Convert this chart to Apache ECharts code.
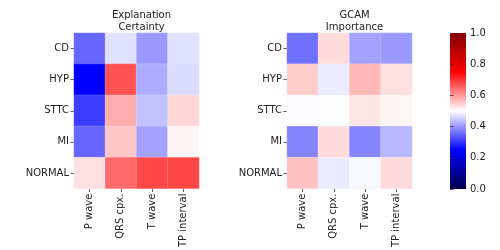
<!DOCTYPE html>
<html><head><meta charset="utf-8">
<script src="https://cdn.jsdelivr.net/npm/echarts@6/dist/echarts.min.js"></script>
<style>html,body{margin:0;padding:0;background:#fff}#c{width:500px;height:250px}</style>
</head><body><div id="c"></div>
<script>
const rows = ['CD', 'HYP', 'STTC', 'MI', 'NORMAL'];
const cols = ['P wave', 'QRS cpx.', 'T wave', 'TP interval'];
const certainty = [
  [0.35, 0.47, 0.40, 0.47],
  [0.25, 0.67, 0.42, 0.465],
  [0.31, 0.58, 0.44, 0.54],
  [0.35, 0.555, 0.41, 0.51],
  [0.53, 0.645, 0.68, 0.68]
];
const importance = [
  [0.36, 0.535, 0.41, 0.40],
  [0.55, 0.48, 0.57, 0.53],
  [0.497, 0.498, 0.525, 0.51],
  [0.38, 0.535, 0.38, 0.43],
  [0.56, 0.48, 0.492, 0.535]
];
const cbTicks = [0, 0.2, 0.4, 0.6, 0.8, 1.0];
const seismic = ['#00004c', '#0000ff', '#ffffff', '#ff0000', '#800000'];

function toData(m) {
  const d = [];
  m.forEach((r, i) => r.forEach((v, j) => d.push([j, i, v])));
  return d;
}
const font = 'DejaVu Sans';
const txt = '#222';
function xAx(gi) {
  return {
    type: 'category', data: cols, gridIndex: gi,
    axisLine: {show: false},
    axisTick: {show: true, alignWithLabel: true, length: 3.5, lineStyle: {color: '#333', width: 0.8}},
    axisLabel: {rotate: 90, fontSize: 10, fontFamily: font, color: txt, margin: 5},
    splitArea: {show: false}
  };
}
function yAx(gi) {
  return {
    type: 'category', data: rows, gridIndex: gi, inverse: true,
    axisLine: {show: false},
    axisTick: {show: true, alignWithLabel: true, length: 3.5, lineStyle: {color: '#333', width: 0.8}},
    axisLabel: {fontSize: 10, fontFamily: font, color: txt, margin: 5}
  };
}
const chart = echarts.init(document.getElementById('c'), null, {renderer: 'canvas'});
chart.setOption({
  backgroundColor: '#fff',
  animation: false,
  title: [
    {text: 'Explanation\nCertainty', left: 136.5, top: 4, textAlign: 'center',
     textStyle: {fontSize: 10, fontWeight: 'normal', fontFamily: font, color: txt, lineHeight: 12}},
    {text: 'GCAM\nImportance', left: 349.5, top: 4, textAlign: 'center',
     textStyle: {fontSize: 10, fontWeight: 'normal', fontFamily: font, color: txt, lineHeight: 12}}
  ],
  grid: [
    {left: 74, top: 33, width: 125, height: 156},
    {left: 287, top: 33, width: 125, height: 156},
    {left: 450, top: 33, width: 16, height: 156, show: true, borderWidth: 0,
     backgroundColor: {type: 'linear', x: 0, y: 0, x2: 0, y2: 1, colorStops: [
       {offset: 0, color: seismic[4]}, {offset: 0.25, color: seismic[3]},
       {offset: 0.5, color: seismic[2]}, {offset: 0.75, color: seismic[1]},
       {offset: 1, color: seismic[0]}]}}
  ],
  xAxis: [xAx(0), xAx(1), {type: 'value', gridIndex: 2, show: false, min: 0, max: 1}],
  yAxis: [yAx(0), yAx(1), {
    type: 'value', gridIndex: 2, position: 'right', min: 0, max: 1, interval: 0.2,
    axisLine: {show: false}, splitLine: {show: false},
    axisTick: {show: true, length: 3.5, lineStyle: {color: '#333', width: 0.8}},
    axisLabel: {fontSize: 10, fontFamily: font, color: txt, margin: 4,
      formatter: v => v.toFixed(1)}
  }],
  visualMap: [
    {type: 'continuous', show: false, min: 0, max: 1, seriesIndex: [0, 1], inRange: {color: seismic}}
  ],
  series: [
    {type: 'heatmap', xAxisIndex: 0, yAxisIndex: 0, data: toData(certainty),
     itemStyle: {borderColor: 'rgba(255,255,255,0.35)', borderWidth: 0.5}},
    {type: 'heatmap', xAxisIndex: 1, yAxisIndex: 1, data: toData(importance),
     itemStyle: {borderColor: 'rgba(255,255,255,0.35)', borderWidth: 0.5}}
  ]
});
</script></body></html>
